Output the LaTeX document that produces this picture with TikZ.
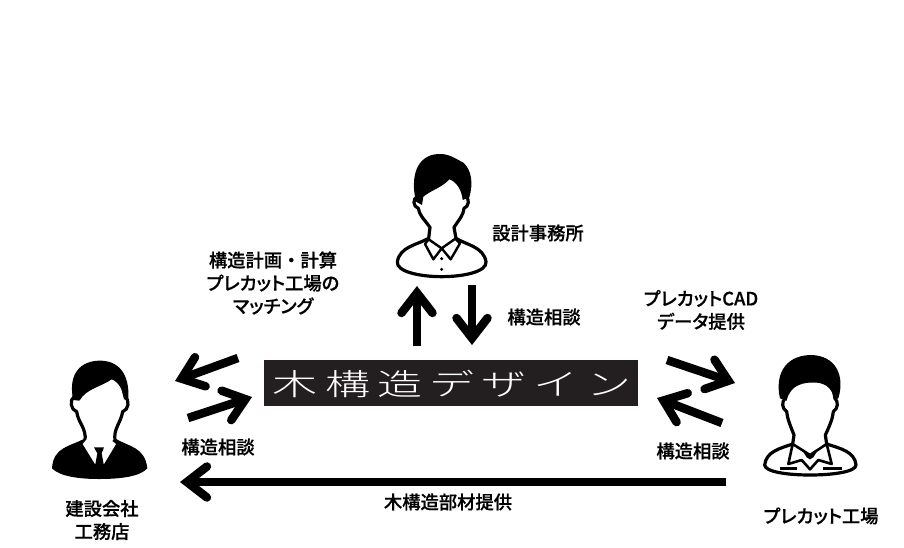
\documentclass[tikz,border=0pt]{standalone}
\usepackage{fontspec}
\usetikzlibrary{arrows.meta}
\setmainfont{Noto Sans CJK JP}
\newfontfamily\lbl[FakeBold=0.5,RawFeature={+palt}]{Noto Sans CJK JP Medium}
\newfontfamily\lblwide[FakeBold=0.5]{Noto Sans CJK JP Medium}
\newfontfamily\logofont[LetterSpace=16]{Noto Sans CJK JP Light}
\definecolor{logobg}{HTML}{231F20}
\tikzset{
  lab/.style={font=\lbl\fontsize{18.3}{23}\selectfont,align=center,text=black,inner sep=0pt},
  bigarrow/.style={line width=8.5pt,black,-{Straight Barb[length=20pt,width=31pt,line width=8.5pt,line cap=round,line join=miter]}},
  ink/.style={draw=black,line width=3.2pt,fill=white,line join=round},
  thin ink/.style={draw=black,line width=2.6pt,line join=round},
  dark/.style={fill=black,draw=none}
}
\begin{document}
\begin{tikzpicture}[x=1pt,y=-1pt]
\useasboundingbox (0,0) rectangle (904,547);
\fill[white] (0,0) rectangle (904,547);

% logo
\node[fill=logobg,minimum width=374pt,minimum height=46pt,inner sep=0pt,anchor=center] (logo) at (451,383) {};
\node[text=white,inner sep=0pt,xscale=1.5,font=\logofont\fontsize{30}{30}\selectfont] (logotext) at (452,384) {木構造デザイン};

% top person
\begin{scope}[shift={(380,140)},scale=1/3]
  \path[ink] (150,262) -- (146,295) .. controls (110,315) and (60,320) .. (52,365) .. controls (48,395) and (120,410) .. (185,410)
    .. controls (250,410) and (322,395) .. (318,365) .. controls (310,320) and (260,315) .. (228,295) -- (222,262)
    .. controls (240,235) and (250,225) .. (252,205) .. controls (268,200) and (268,175) .. (258,170)
    -- (240,90) -- (125,90) -- (112,170) .. controls (98,175) and (98,200) .. (115,205)
    .. controls (118,225) and (130,235) .. (150,262) -- cycle;
  \path[dark] (108,185) .. controls (90,110) and (110,45) .. (175,42) .. controls (205,40) and (225,55) .. (250,68)
    .. controls (275,90) and (280,130) .. (268,172) -- (248,180) .. controls (245,150) and (230,125) .. (208,118)
    .. controls (190,140) and (155,150) .. (130,170) -- (126,195) -- cycle;
  \path[ink,line width=2.4pt] (146,298) -- (135,312) -- (160,358) -- (185,325) -- (212,358) -- (240,310) -- (226,296) -- (185,325) -- cycle;
  \fill (185,356) circle (5);
  \fill (185,388) circle (5);
\end{scope}

% left person
\begin{scope}[shift={(30,340)},scale=1/3]
  \path[dark] (165,295) .. controls (120,320) and (70,320) .. (66,385) .. controls (90,410) and (150,417) .. (208,417)
    .. controls (270,417) and (330,410) .. (352,385) .. controls (345,320) and (295,320) .. (255,295) -- cycle;
  \path[ink] (165,302) .. controls (170,265) and (145,250) .. (140,215) .. controls (122,210) and (118,180) .. (132,170)
    -- (150,100) -- (268,100) -- (285,170) .. controls (300,180) and (296,210) .. (278,215)
    .. controls (272,250) and (250,265) .. (255,302) -- (210,345) -- cycle;
  \path[fill=white] (158,312) -- (170,298) -- (205,322) -- (240,298) -- (258,312) -- (222,372) -- (208,375) -- (195,372) -- cycle;
  \path[dark] (192,322) -- (222,322) -- (215,340) -- (222,378) -- (208,400) -- (195,378) -- (202,340) -- cycle;
  \path[dark] (130,180) .. controls (115,115) and (140,65) .. (205,62) .. controls (265,60) and (300,100) .. (295,180)
    -- (282,178) .. controls (280,150) and (265,125) .. (245,118) .. controls (215,140) and (170,145) .. (148,182) -- cycle;
\end{scope}

% right person
\begin{scope}[shift={(640,340)},scale=1/3]
  \path[ink] (462,285) -- (458,312) .. controls (420,325) and (378,335) .. (374,375) .. controls (375,395) and (440,405) .. (510,405)
    .. controls (580,405) and (648,395) .. (648,375) .. controls (645,335) and (600,325) .. (560,312) -- (556,285)
    .. controls (570,255) and (578,235) .. (580,215) .. controls (595,205) and (595,185) .. (585,175)
    -- (570,100) -- (450,100) -- (435,175) .. controls (425,185) and (425,205) .. (440,215)
    .. controls (442,235) and (450,255) .. (462,285) -- cycle;
  \path[dark] (420,175) .. controls (405,110) and (430,48) .. (510,45) .. controls (590,45) and (615,110) .. (595,175)
    -- (582,180) .. controls (580,150) and (560,130) .. (530,128) .. controls (490,125) and (450,135) .. (440,182) -- cycle;
  \path[thin ink,fill=white] (458,312) -- (445,372) -- (485,360) -- (510,388) -- (535,360) -- (575,372) -- (560,312) -- (510,345) -- cycle;
  \path[dark] (485,328) -- (510,345) -- (535,328) -- (520,352) -- (510,358) -- (500,352) -- cycle;
  \draw[black,line width=2.4pt] (420,385) -- (470,385) (550,385) -- (605,385);
\end{scope}

% arrow ends
\coordinate (upS) at (417,346);   \coordinate (upE) at (417,286);
\coordinate (dnS) at (472,285);   \coordinate (dnE) at (472,345);
\coordinate (lt1S) at (238,358);  \coordinate (lt1E) at (175,381);
\coordinate (lt2S) at (188,418);  \coordinate (lt2E) at (252,397);
\coordinate (rt1S) at (667,360);  \coordinate (rt1E) at (735,383);
\coordinate (rt2S) at (722,423);  \coordinate (rt2E) at (657,398);
\coordinate (botS) at (726,482);  \coordinate (botE) at (180,482);

\draw[bigarrow] (upS) -- (upE);
\draw[bigarrow] (dnS) -- (dnE);
\draw[bigarrow] (lt1S) -- (lt1E);
\draw[bigarrow] (lt2S) -- (lt2E);
\draw[bigarrow] (rt1S) -- (rt1E);
\draw[bigarrow] (rt2S) -- (rt2E);
\draw[bigarrow] (botS) -- (botE);

% labels
\node[lab] (t1) at (538,233) {設計事務所};
\node[lab] (t2) at (544,317) {構造相談};
\node[lab] (t3) at (273,283) {構造計画{\lblwide ・}計算\\プレカット工場の\\マッチング};
\node[lab] (t4) at (701,310) {プレカットCAD\\データ提供};
\node[lab] (t5) at (218,447) {構造相談};
\node[lab] (t6) at (693,451) {構造相談};
\node[lab] (t7) at (448,502) {木構造部材提供};
\node[lab] (t8) at (102,520) {建設会社\\工務店};
\node[lab] (t9) at (821,516) {プレカット工場};
\end{tikzpicture}
\end{document}
